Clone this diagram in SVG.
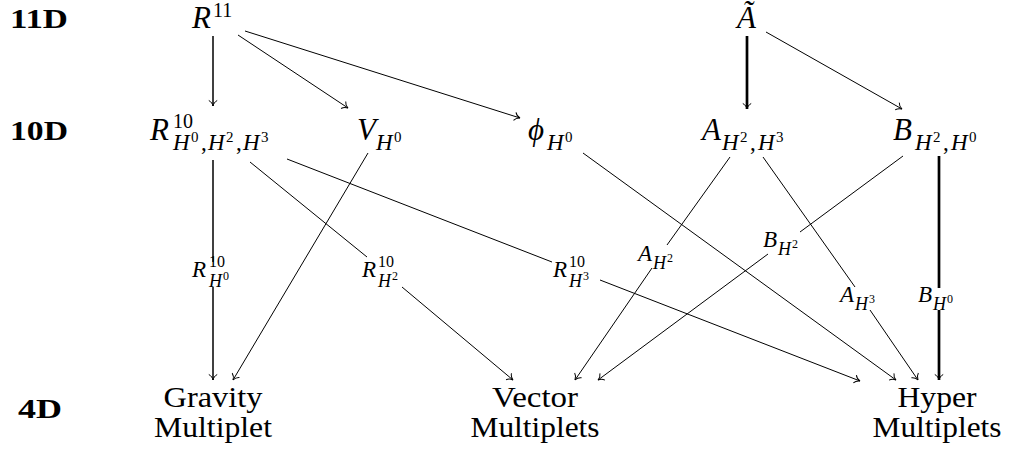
<svg xmlns="http://www.w3.org/2000/svg" width="1013" height="457" viewBox="0 0 1013 457">
<defs>
<style>
text{font-family:"Liberation Serif","Times New Roman",serif;fill:#000}
.b{font-weight:bold;font-size:27px}
.mi{font-style:italic;font-size:31px}
.sup{font-style:normal;font-size:20px}
.sub{font-style:italic;font-size:23px}
.cm{font-style:normal;font-size:23px}
.ss{font-style:normal;font-size:15px}
.li{font-style:italic;font-size:23px}
.lsup{font-style:normal;font-size:16px}
.lsub{font-style:italic;font-size:18px}
.lss{font-style:normal;font-size:12px}
.t{font-size:29px;text-anchor:middle}
.e{fill:none;stroke:#000;stroke-width:1}
.m{stroke-width:1.5}
.k{stroke-width:2.7}
</style>
<marker id="ar" viewBox="-8 -6 10 12" refX="0" refY="0" markerWidth="10" markerHeight="12" markerUnits="userSpaceOnUse" orient="auto" overflow="visible">
<path d="M-5.5,-4.2 C-4.2,-1.6 -2,-0.5 0,0 C-2,0.5 -4.2,1.6 -5.5,4.2" fill="none" stroke="#000" stroke-width="1"/>
</marker>
</defs>
<rect width="1013" height="457" fill="#fff"/>

<g id="levels">
<text class="b" x="10" y="28" textLength="58" lengthAdjust="spacingAndGlyphs">11D</text>
<text class="b" x="10" y="140" textLength="58" lengthAdjust="spacingAndGlyphs">10D</text>
<text class="b" x="18" y="418" textLength="44" lengthAdjust="spacingAndGlyphs">4D</text>
</g>

<g id="connectors">
<path class="e m" d="M213,36V106" marker-end="url(#ar)"/>
<path class="e" d="M238,35L348,108" marker-end="url(#ar)"/>
<path class="e" d="M245,31L520,118" marker-end="url(#ar)"/>
<path class="e k" d="M747,36V109" marker-end="url(#ar)"/>
<path class="e" d="M766,32L902,109" marker-end="url(#ar)"/>
<path class="e m" d="M213,160V262"/>
<path class="e m" d="M213,287V380" marker-end="url(#ar)"/>
<path class="e" d="M368,153L233,380" marker-end="url(#ar)"/>
<path class="e" d="M250,162L367,257"/>
<path class="e" d="M402,287L513,380" marker-end="url(#ar)"/>
<path class="e" d="M287,159L552,262"/>
<path class="e" d="M600,280L860,381" marker-end="url(#ar)"/>
<path class="e" d="M583,153L896,380" marker-end="url(#ar)"/>
<path class="e" d="M730,157L667,245"/>
<path class="e" d="M652,268L575,380" marker-end="url(#ar)"/>
<path class="e" d="M903,156L800,232"/>
<path class="e" d="M768,254L598,380" marker-end="url(#ar)"/>
<path class="e" d="M763,157L855,287"/>
<path class="e" d="M870,310L918,380" marker-end="url(#ar)"/>
<path class="e k" d="M939,156V288"/>
<path class="e k" d="M939,310V380" marker-end="url(#ar)"/>
</g>

<g id="n-R11"><text class="mi" x="192" y="28">R<tspan class="sup" x="213" y="17">11</tspan></text></g>
<g id="n-Atilde"><text class="mi" x="737" y="28">Ã</text></g>

<g id="n-R10"><text class="mi" x="150" y="140">R<tspan class="sup" x="173" y="128">10</tspan><tspan class="sub" x="173" y="150">H</tspan><tspan class="ss" x="191" y="142">0</tspan><tspan class="cm" x="201" y="150">,</tspan><tspan class="sub" x="208" y="150">H</tspan><tspan class="ss" x="226" y="142">2</tspan><tspan class="cm" x="236" y="150">,</tspan><tspan class="sub" x="243" y="150">H</tspan><tspan class="ss" x="261" y="142">3</tspan></text></g>
<g id="n-V"><text class="mi" x="357" y="140">V<tspan class="sub" x="376" y="150">H</tspan><tspan class="ss" x="394" y="142">0</tspan></text></g>
<g id="n-phi"><text class="mi" x="528" y="140">ϕ<tspan class="sub" x="547" y="150">H</tspan><tspan class="ss" x="565" y="142">0</tspan></text></g>
<g id="n-A"><text class="mi" x="702" y="140">A<tspan class="sub" x="722" y="150">H</tspan><tspan class="ss" x="740" y="142">2</tspan><tspan class="cm" x="750" y="150">,</tspan><tspan class="sub" x="758" y="150">H</tspan><tspan class="ss" x="776" y="142">3</tspan></text></g>
<g id="n-B"><text class="mi" x="893" y="140">B<tspan class="sub" x="915" y="150">H</tspan><tspan class="ss" x="933" y="142">2</tspan><tspan class="cm" x="943" y="150">,</tspan><tspan class="sub" x="951" y="150">H</tspan><tspan class="ss" x="969" y="142">0</tspan></text></g>

<g id="l-RH0"><text class="li" x="192" y="277">R<tspan class="lsup" x="209" y="267">10</tspan><tspan class="lsub" x="209" y="287">H</tspan><tspan class="lss" x="223" y="280">0</tspan></text></g>
<g id="l-RH2"><text class="li" x="362" y="277">R<tspan class="lsup" x="378" y="267">10</tspan><tspan class="lsub" x="378" y="287">H</tspan><tspan class="lss" x="392" y="280">2</tspan></text></g>
<g id="l-RH3"><text class="li" x="553" y="277">R<tspan class="lsup" x="569" y="267">10</tspan><tspan class="lsub" x="569" y="287">H</tspan><tspan class="lss" x="583" y="280">3</tspan></text></g>
<g id="l-AH2"><text class="li" x="638" y="261">A<tspan class="lsub" x="653" y="269">H</tspan><tspan class="lss" x="667" y="262">2</tspan></text></g>
<g id="l-BH2"><text class="li" x="763" y="247">B<tspan class="lsub" x="778" y="255">H</tspan><tspan class="lss" x="792" y="248">2</tspan></text></g>
<g id="l-AH3"><text class="li" x="840" y="302">A<tspan class="lsub" x="855" y="310">H</tspan><tspan class="lss" x="869" y="303">3</tspan></text></g>
<g id="l-BH0"><text class="li" x="918" y="302">B<tspan class="lsub" x="933" y="310">H</tspan><tspan class="lss" x="947" y="303">0</tspan></text></g>

<g id="n-gravity"><text class="t" x="213" y="407" textLength="99" lengthAdjust="spacingAndGlyphs">Gravity</text><text class="t" x="213" y="437" textLength="118" lengthAdjust="spacingAndGlyphs">Multiplet</text></g>
<g id="n-vector"><text class="t" x="535" y="407" textLength="86" lengthAdjust="spacingAndGlyphs">Vector</text><text class="t" x="535" y="437" textLength="129" lengthAdjust="spacingAndGlyphs">Multiplets</text></g>
<g id="n-hyper"><text class="t" x="937" y="407" textLength="79" lengthAdjust="spacingAndGlyphs">Hyper</text><text class="t" x="937" y="437" textLength="129" lengthAdjust="spacingAndGlyphs">Multiplets</text></g>
</svg>
